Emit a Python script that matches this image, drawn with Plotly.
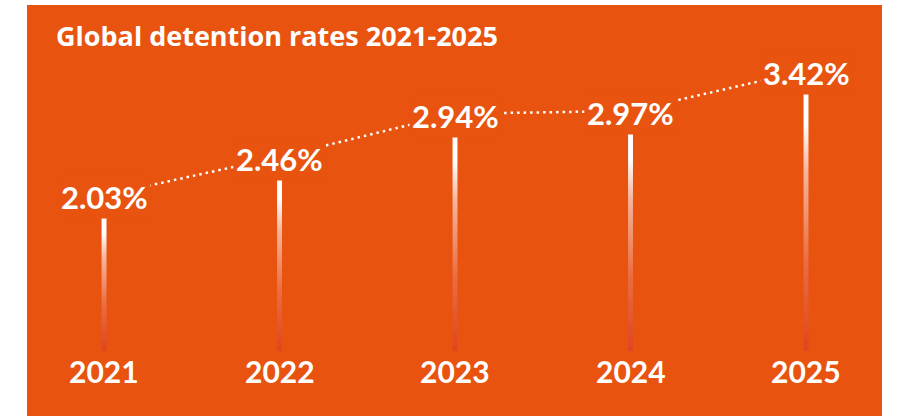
import plotly.graph_objects as go

# ---- data ----
years = ["2021", "2022", "2023", "2024", "2025"]
rates = [2.03, 2.46, 2.94, 2.97, 3.42]
rate_labels = ["2.03%", "2.46%", "2.94%", "2.97%", "3.42%"]
title_text = "Global detention rates 2021-2025"

# ---- style ----
ORANGE = "#E8530F"
BASE = 0.54            # value at which the bars start
LABEL_OFFSET = 0.24    # label centre above the bar top (data units)
HALF_W = 0.014         # half bar width (x units)
FONT = "Lato"
TITLE_FONT = "Open Sans"

xs = list(range(len(years)))
fig = go.Figure()

# gradient bars
for i, v in zip(xs, rates):
    fig.add_trace(go.Scatter(
        x=[i - HALF_W, i + HALF_W, i + HALF_W, i - HALF_W, i - HALF_W],
        y=[BASE, BASE, v, v, BASE],
        mode="lines", fill="toself", line=dict(width=0, color="rgba(0,0,0,0)"),
        fillgradient=dict(type="vertical",
                          colorscale=[[0, "#DF4520"], [0.35, "#EB6E42"],
                                      [0.7, "#F6B69C"], [0.88, "#FFFFFF"], [1, "#FFFFFF"]]),
        hoverinfo="skip", showlegend=False))

# dotted connecting line through label centres
label_y = [v + LABEL_OFFSET for v in rates]
fig.add_trace(go.Scatter(
    x=xs, y=label_y, mode="lines",
    line=dict(color="white", width=2.5, dash="2.5px,4px"),
    hoverinfo="skip", showlegend=False))

annotations = []
for i, ly, t in zip(xs, label_y, rate_labels):
    annotations.append(dict(x=i, y=ly, xref="x", yref="y", text=t, showarrow=False,
                            xanchor="center", yanchor="middle", yshift=-2,
                            bgcolor=ORANGE, borderpad=2,
                            font=dict(family=FONT, size=31, color="white", weight="bold")))
for i, yr in zip(xs, years):
    annotations.append(dict(x=i, y=BASE, xref="x", yref="y", text=yr, showarrow=False,
                            xanchor="center", yanchor="top", yshift=0,
                            font=dict(family=FONT, size=30, color="white", weight="bold")))
annotations.append(dict(x=0, y=1, xref="paper", yref="paper", text=title_text, showarrow=False,
                        xanchor="left", yanchor="top", xshift=27, yshift=-10,
                        font=dict(family=TITLE_FONT, size=27, color="white", weight="bold")))

fig.update_layout(
    width=899, height=416,
    margin=dict(l=27, r=17, t=5, b=0),
    paper_bgcolor="white", plot_bgcolor=ORANGE,
    xaxis=dict(range=[-0.439, 4.433], visible=False, fixedrange=True),
    yaxis=dict(range=[-0.183, 4.389], visible=False, fixedrange=True),
    annotations=annotations,
    showlegend=False,
)

fig.write_html("out.html", config={"displayModeBar": False})
